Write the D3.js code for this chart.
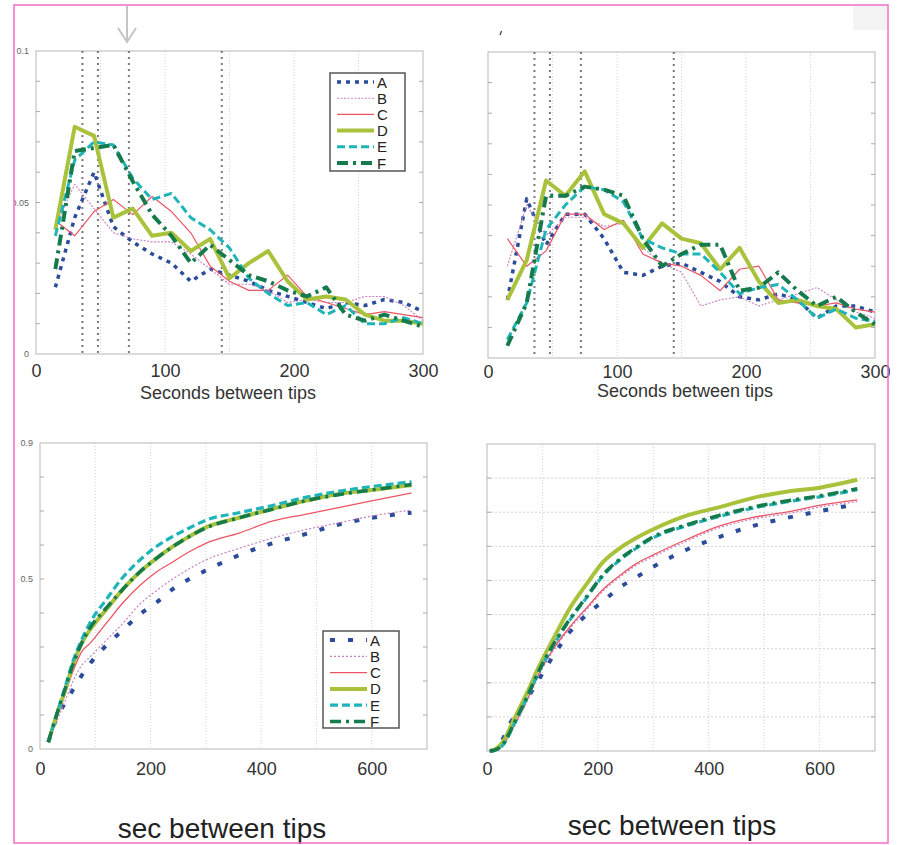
<!DOCTYPE html>
<html><head><meta charset="utf-8">
<script src="https://cdn.jsdelivr.net/npm/d3@7"></script>
<style>body{margin:0;background:#fff;} svg{display:block;font-family:Arial,"Liberation Sans",sans-serif;}</style>
</head><body><svg id="c" width="900" height="845"></svg>
<script>
// ---------------- data ----------------
const seriesNames = ["A","B","C","D","E","F"];
const topX = [15,30,45,60,75,90,105,120,135,150,165,180,195,210,225,240,255,270,285,300];

// top-left panel (density of seconds between tips)
const tlA = [0.022,0.045,0.060,0.042,0.037,0.033,0.030,0.024,0.028,0.026,0.024,0.021,0.019,0.017,0.015,0.017,0.016,0.018,0.017,0.014];
const tlB = [0.042,0.056,0.048,0.040,0.038,0.037,0.037,0.033,0.028,0.023,0.023,0.021,0.017,0.018,0.017,0.017,0.019,0.019,0.016,0.011];
const tlC = [0.044,0.039,0.047,0.051,0.046,0.052,0.047,0.040,0.029,0.024,0.021,0.021,0.026,0.019,0.017,0.015,0.013,0.014,0.013,0.012];
const tlD = [0.041,0.075,0.072,0.045,0.048,0.039,0.040,0.034,0.038,0.025,0.030,0.034,0.024,0.018,0.019,0.018,0.013,0.011,0.011,0.010];
const tlE = [0.039,0.064,0.070,0.069,0.058,0.051,0.053,0.045,0.041,0.035,0.025,0.020,0.016,0.017,0.013,0.016,0.010,0.010,0.012,0.010];
const tlF = [0.028,0.067,0.068,0.069,0.057,0.046,0.039,0.030,0.036,0.031,0.026,0.024,0.021,0.019,0.022,0.013,0.011,0.013,0.011,0.009];

// top-right panel
const trA = [0.019,0.052,0.037,0.047,0.047,0.039,0.028,0.027,0.030,0.031,0.028,0.025,0.020,0.019,0.021,0.019,0.013,0.017,0.017,0.015];
const trB = [0.030,0.050,0.040,0.046,0.046,0.043,0.044,0.036,0.031,0.028,0.017,0.019,0.020,0.017,0.019,0.021,0.023,0.019,0.015,0.013];
const trC = [0.039,0.030,0.035,0.047,0.047,0.042,0.045,0.034,0.031,0.030,0.027,0.022,0.029,0.030,0.019,0.018,0.017,0.018,0.016,0.015];
const trD = [0.019,0.032,0.058,0.053,0.061,0.047,0.044,0.036,0.044,0.039,0.0375,0.029,0.036,0.025,0.018,0.019,0.017,0.016,0.010,0.011];
const trE = [0.006,0.018,0.042,0.050,0.056,0.055,0.051,0.039,0.036,0.034,0.034,0.028,0.021,0.023,0.024,0.019,0.013,0.016,0.013,0.012];
const trF = [0.004,0.018,0.053,0.053,0.056,0.055,0.053,0.039,0.030,0.034,0.037,0.037,0.022,0.023,0.028,0.022,0.017,0.020,0.015,0.011];

// bottom-left panel (cumulative)
const blX = [15,30,45,60,75,90,120,150,180,210,240,270,300,360,420,480,540,600,672];
const blA = [0.02,0.09,0.135,0.175,0.215,0.25,0.305,0.35,0.395,0.43,0.47,0.50,0.525,0.57,0.605,0.632,0.66,0.68,0.695];
const blB = [0.02,0.08,0.14,0.20,0.245,0.27,0.32,0.37,0.425,0.465,0.50,0.53,0.556,0.59,0.62,0.645,0.665,0.685,0.703];
const blC = [0.02,0.09,0.16,0.23,0.285,0.31,0.37,0.43,0.48,0.52,0.55,0.58,0.605,0.635,0.67,0.69,0.71,0.73,0.753];
const blD = [0.02,0.10,0.17,0.25,0.31,0.35,0.41,0.47,0.52,0.56,0.595,0.625,0.652,0.68,0.706,0.73,0.75,0.762,0.776];
const blE = [0.02,0.10,0.18,0.26,0.32,0.37,0.44,0.505,0.555,0.595,0.625,0.65,0.673,0.695,0.716,0.74,0.758,0.772,0.786];
const blF = [0.02,0.10,0.175,0.25,0.31,0.355,0.415,0.47,0.52,0.56,0.595,0.625,0.65,0.68,0.705,0.73,0.748,0.762,0.778];

// bottom-right panel (cumulative)
const brX = [5,15,30,45,60,75,90,120,150,180,210,240,270,300,360,420,480,540,600,668];
const brA = [0,0.003,0.04,0.09,0.12,0.16,0.20,0.28,0.35,0.40,0.44,0.48,0.51,0.54,0.59,0.628,0.66,0.683,0.703,0.724];
const brB = [0,0.003,0.018,0.06,0.105,0.155,0.21,0.295,0.36,0.415,0.47,0.51,0.545,0.57,0.615,0.655,0.68,0.695,0.715,0.731];
const brC = [0,0.003,0.02,0.065,0.11,0.16,0.215,0.30,0.365,0.42,0.475,0.515,0.55,0.575,0.62,0.66,0.685,0.70,0.72,0.736];
const brD = [0,0.005,0.03,0.08,0.13,0.18,0.235,0.33,0.42,0.49,0.555,0.595,0.625,0.65,0.69,0.715,0.742,0.76,0.772,0.795];
const brE = [0,0.003,0.02,0.065,0.115,0.165,0.22,0.31,0.385,0.45,0.515,0.56,0.595,0.625,0.66,0.688,0.712,0.73,0.745,0.766];
const brF = [0,0.003,0.022,0.068,0.118,0.168,0.223,0.313,0.388,0.453,0.518,0.563,0.598,0.628,0.663,0.691,0.715,0.733,0.748,0.769];

const markerSeconds = [36,48,72,144];
const topXTicks = [0,100,200,300];
const topGrid = [50,100,150,200,250];
const topMinorY = [0.01,0.02,0.03,0.04,0.05,0.06,0.07,0.08,0.09];
const topYTicks = [0,0.05,0.1];
const topYTickText = ["0","0.05","0.1"];
const bottomXTicks = [0,200,400,600];
const bottomGrid = [100,200,300,400,500,600];
const bottomMinorY = [0.1,0.2,0.3,0.4,0.5,0.6,0.7,0.8];
const bottomYTicks = [0,0.5,0.9];
const bottomYTickText = ["0","0.5","0.9"];
const topXLabel = "Seconds between tips";
const bottomXLabel = "sec between tips";

// ---------------- styles ----------------
const colors = {A:"#2b4b9b",B:"#c97fc2",C:"#ec5564",D:"#a8c23c",E:"#1fb4b8",F:"#157a4c"};
const topStyle = {
  A:{w:3.5,dash:"4,5"}, B:{w:1.1,dash:"2,1.5"}, C:{w:1.2,dash:null},
  D:{w:4,dash:null}, E:{w:3,dash:"8,4"}, F:{w:4,dash:"11,5,3,5"}
};
const botStyle = {
  A:{w:4,dash:"5,13"}, B:{w:1.2,dash:"2,2"}, C:{w:1.3,dash:null},
  D:{w:4,dash:null}, E:{w:3.2,dash:"8,4"}, F:{w:3.5,dash:"11,5,3,5"}
};

const svg = d3.select("#c");
svg.append("rect").attr("width",900).attr("height",845).attr("fill","#fff");

function panel(cfg){
  const x = d3.scaleLinear().domain(cfg.xDomain).range([cfg.l,cfg.r]);
  const y = d3.scaleLinear().domain(cfg.yDomain).range([cfg.b,cfg.t]);
  const g = svg.append("g");
  g.append("rect").attr("x",cfg.l).attr("y",cfg.t).attr("width",cfg.r-cfg.l).attr("height",cfg.b-cfg.t)
    .attr("fill","#fff");
  g.selectAll(".vg").data(cfg.vGrid).join("line")
    .attr("x1",d=>x(d)).attr("x2",d=>x(d)).attr("y1",cfg.t).attr("y2",cfg.b)
    .attr("stroke","#d2d2d2").attr("stroke-width",1).attr("stroke-dasharray","1,2");
  if(cfg.hGrid){
    g.selectAll(".hg").data(cfg.minorY).join("line")
      .attr("x1",cfg.l).attr("x2",cfg.r).attr("y1",d=>y(d)).attr("y2",d=>y(d))
      .attr("stroke","#d2d2d2").attr("stroke-width",1).attr("stroke-dasharray","2,2");
  }
  g.append("rect").attr("x",cfg.l).attr("y",cfg.t).attr("width",cfg.r-cfg.l).attr("height",cfg.b-cfg.t)
    .attr("fill","none").attr("stroke","#c4c4c4").attr("stroke-width",1.2);
  // minor tick marks on both sides
  g.selectAll(".tl").data(cfg.minorY).join("line")
    .attr("x1",cfg.l).attr("x2",cfg.l+4).attr("y1",d=>y(d)).attr("y2",d=>y(d))
    .attr("stroke","#aaa").attr("stroke-width",1);
  g.selectAll(".tr").data(cfg.minorY).join("line")
    .attr("x1",cfg.r-4).attr("x2",cfg.r).attr("y1",d=>y(d)).attr("y2",d=>y(d))
    .attr("stroke","#aaa").attr("stroke-width",1);
  if(cfg.markers){
    g.selectAll(".mk").data(cfg.markers).join("line")
      .attr("x1",d=>x(d)).attr("x2",d=>x(d)).attr("y1",cfg.t).attr("y2",cfg.b)
      .attr("stroke","#7a7a7a").attr("stroke-width",2).attr("stroke-dasharray","2,4");
  }
  const line = d3.line().x((d,i)=>x(cfg.xs[i])).y(d=>y(d)).curve(cfg.curve);
  seriesNames.forEach(n=>{
    const st = cfg.style[n];
    g.append("path").datum(cfg.series[n]).attr("d",line)
      .attr("fill","none").attr("stroke",colors[n]).attr("stroke-width",st.w)
      .attr("stroke-dasharray",st.dash).attr("stroke-linejoin","round");
  });
  const ax = g.append("g").attr("transform",`translate(0,${cfg.b})`)
    .call(d3.axisBottom(x).tickValues(cfg.xTicks).tickSize(0).tickPadding(cfg.pad).tickFormat(d3.format("d")));
  ax.select(".domain").remove();
  ax.selectAll("text").attr("font-size",18).attr("fill","#333").attr("font-family","Arial,'Liberation Sans',sans-serif");
  if(cfg.yTicks){
    g.selectAll(".yl").data(cfg.yTicks).join("text")
      .attr("x",cfg.l-7).attr("y",d=>y(d)+3).attr("text-anchor","end")
      .attr("font-size",9).attr("fill","#666").text((d,i)=>cfg.yText[i]);
  }
  g.append("text").attr("x",cfg.labelX).attr("y",cfg.labelY).attr("text-anchor","middle")
    .attr("font-size",cfg.labelSize).attr("fill",cfg.labelColor).text(cfg.label);
  if(cfg.legend){
    const L = cfg.legend;
    const lg = g.append("g");
    lg.append("rect").attr("x",L.x).attr("y",L.y).attr("width",L.w).attr("height",L.h)
      .attr("fill","#fff").attr("stroke","#555").attr("stroke-width",1.5);
    const rows = lg.selectAll(".row").data(seriesNames).join("g")
      .attr("transform",(d,i)=>`translate(0,${L.y+9+i*L.step})`);
    rows.append("line").attr("x1",L.x+7).attr("x2",L.x+44).attr("y1",0).attr("y2",0)
      .attr("stroke",d=>colors[d]).attr("stroke-width",d=>cfg.style[d].w)
      .attr("stroke-dasharray",d=>cfg.style[d].dash);
    rows.append("text").attr("x",L.x+47).attr("y",5.5).attr("font-size",15).attr("fill","#222").text(d=>d);
  }
}

panel({l:36,t:51,r:423,b:354,xDomain:[0,300],yDomain:[0,0.1],xs:topX,
  series:{A:tlA,B:tlB,C:tlC,D:tlD,E:tlE,F:tlF},style:topStyle,curve:d3.curveLinear,
  vGrid:topGrid,minorY:topMinorY,markers:markerSeconds,xTicks:topXTicks,pad:10,
  yTicks:topYTicks,yText:topYTickText,
  label:topXLabel,labelX:228,labelY:399,labelSize:18,labelColor:"#333",
  legend:{x:330,y:73,w:75,h:98,step:16.2}});

panel({l:488,t:52,r:875,b:358,xDomain:[0,300],yDomain:[0,0.1],xs:topX,
  series:{A:trA,B:trB,C:trC,D:trD,E:trE,F:trF},style:topStyle,curve:d3.curveLinear,
  vGrid:topGrid,minorY:topMinorY,markers:markerSeconds,xTicks:topXTicks,pad:7,
  label:topXLabel,labelX:685,labelY:397,labelSize:18,labelColor:"#333"});

panel({l:40,t:443,r:427,b:749,xDomain:[0,700],yDomain:[0,0.9],xs:blX,
  series:{A:blA,B:blB,C:blC,D:blD,E:blE,F:blF},style:botStyle,curve:d3.curveMonotoneX,
  vGrid:bottomGrid,minorY:bottomMinorY,xTicks:bottomXTicks,pad:13,
  yTicks:bottomYTicks,yText:bottomYTickText,
  label:bottomXLabel,labelX:222,labelY:838,labelSize:28,labelColor:"#222",
  legend:{x:323,y:631,w:76,h:97,step:16.3}});

panel({l:487,t:444,r:875,b:751,xDomain:[0,700],yDomain:[0,0.9],xs:brX,
  series:{A:brA,B:brB,C:brC,D:brD,E:brE,F:brF},style:botStyle,curve:d3.curveMonotoneX,
  vGrid:bottomGrid,minorY:bottomMinorY,hGrid:true,xTicks:bottomXTicks,pad:11,
  label:bottomXLabel,labelX:672,labelY:835,labelSize:28,labelColor:"#222"});

// decorations: arrow, faint corner block, tiny mark, white margin and pink frame
const deco = svg.append("g");
deco.append("path").attr("d","M127,6 L127,42 M118,28 L127,42 L136,28")
  .attr("fill","none").attr("stroke","#c4c4c4").attr("stroke-width",2);
deco.append("rect").attr("x",853).attr("y",6).attr("width",34).attr("height",24).attr("fill","#f3f3f3");
deco.append("path").attr("d","M500,35 L501.5,31").attr("stroke","#333").attr("stroke-width",1.2);
deco.append("rect").attr("x",0).attr("y",0).attr("width",14).attr("height",845).attr("fill","#fff");
deco.append("rect").attr("x",14).attr("y",5).attr("width",874).attr("height",838)
  .attr("fill","none").attr("stroke","#f36cc6").attr("stroke-width",1.5);
</script></body></html>
